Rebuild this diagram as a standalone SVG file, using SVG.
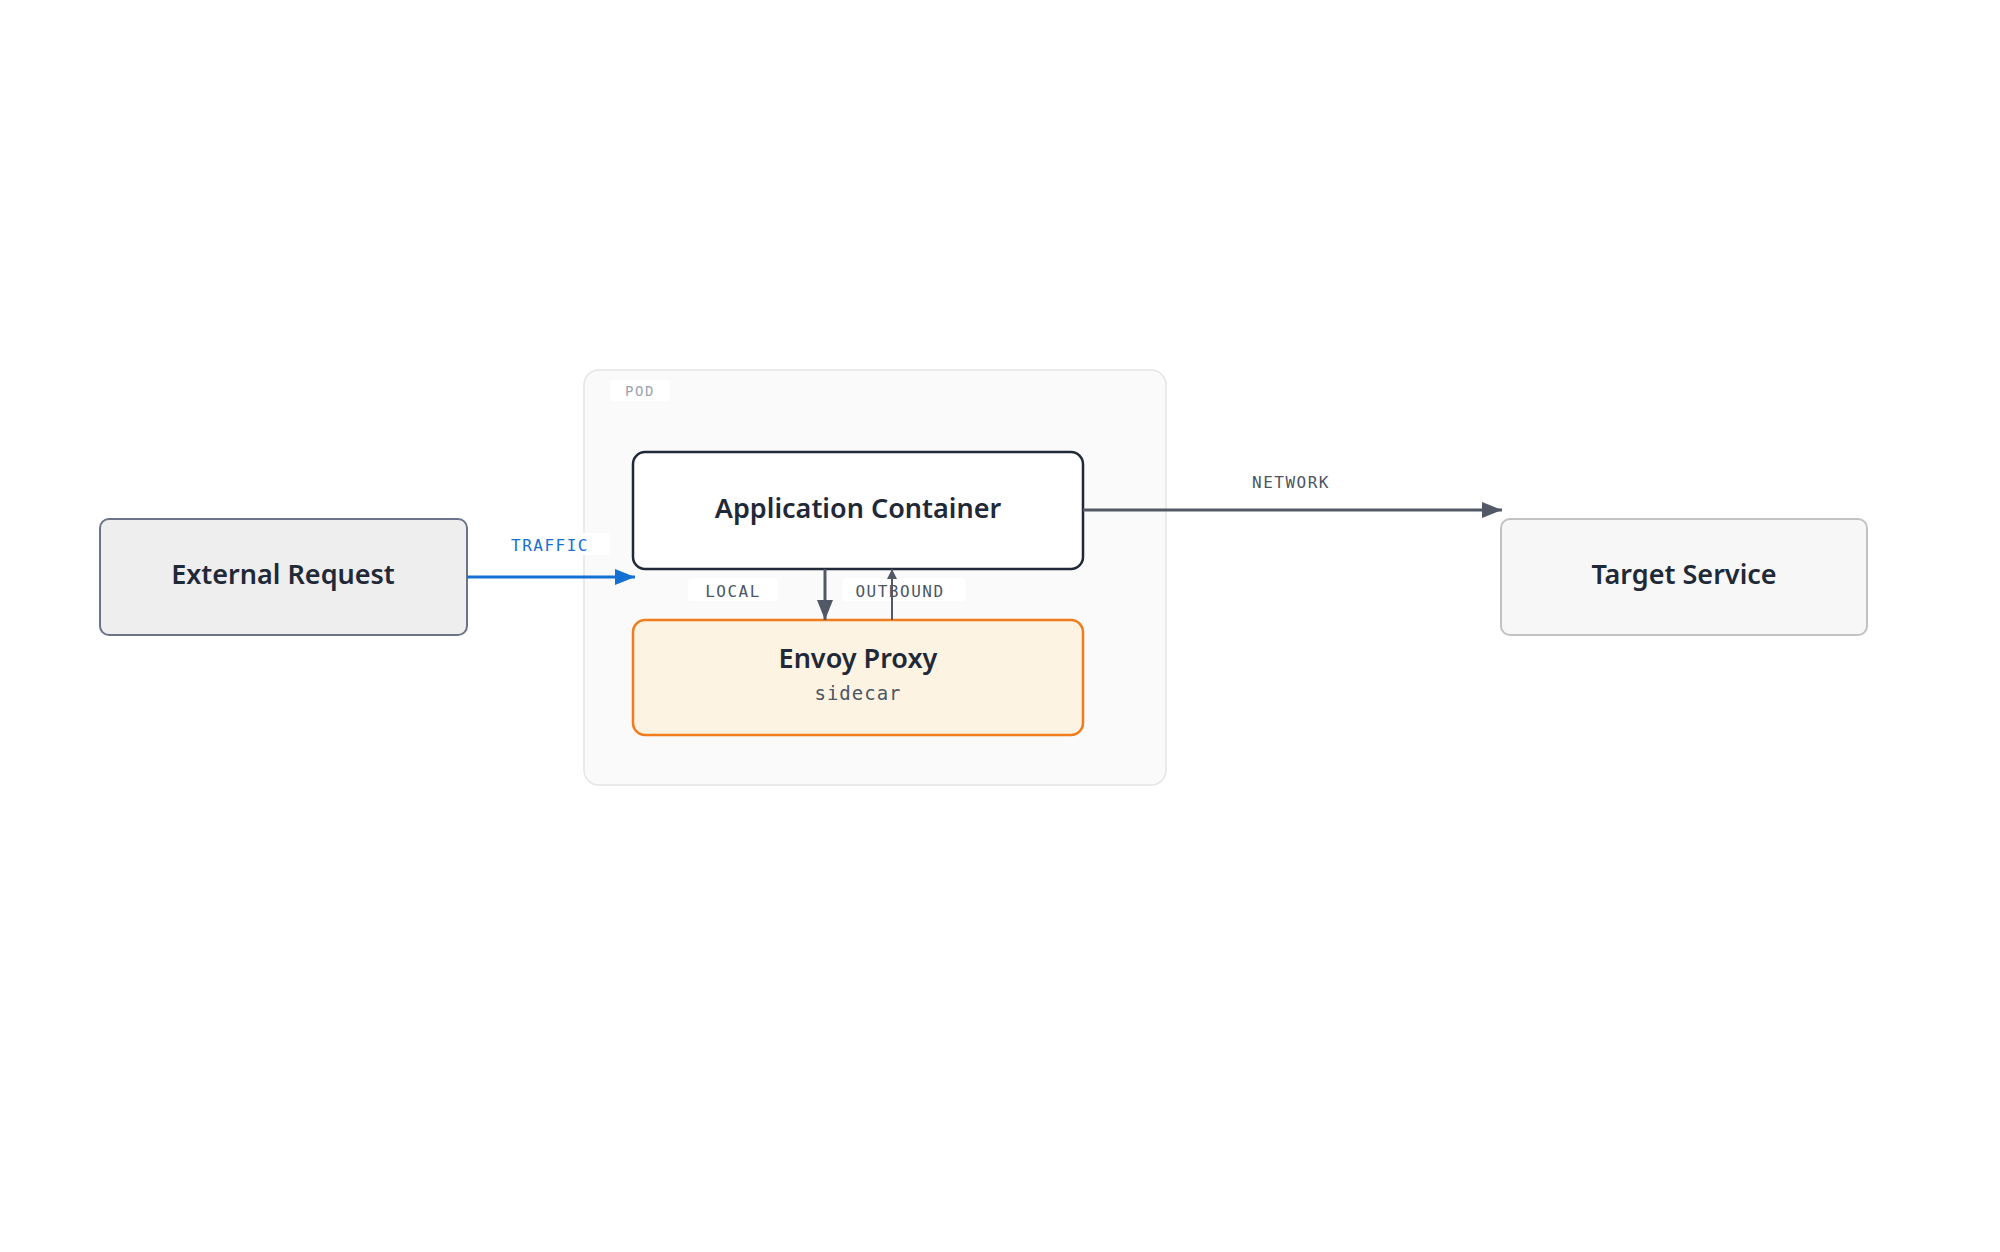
<svg xmlns="http://www.w3.org/2000/svg" width="2000" height="1252" viewBox="0 0 2000 1252">
<style>
.t{font-family:"Noto Sans","Open Sans",sans-serif;font-weight:600;font-size:27px;fill:#1f2937;text-anchor:middle;dominant-baseline:central}
.m{font-family:"DejaVu Sans Mono","Liberation Mono",monospace;font-size:16px;letter-spacing:1.5px;fill:#4b5563;text-anchor:middle;dominant-baseline:central}
.lb{fill:#fff}
</style>
<defs>
<marker id="ag" viewBox="0 0 10 10" refX="10" refY="5" markerWidth="10" markerHeight="10" markerUnits="userSpaceOnUse" orient="auto"><path d="M0,0L10,5L0,10z" fill="#525866"/></marker>
<marker id="agb" viewBox="0 0 10 10" refX="10" refY="5" markerWidth="20" markerHeight="16" markerUnits="userSpaceOnUse" orient="auto" preserveAspectRatio="none"><path d="M0,0L10,5L0,10z" fill="#525866"/></marker>
<marker id="ab" viewBox="0 0 10 10" refX="10" refY="5" markerWidth="20" markerHeight="16" markerUnits="userSpaceOnUse" orient="auto" preserveAspectRatio="none"><path d="M0,0L10,5L0,10z" fill="#1570d4"/></marker>
</defs>
<rect width="2000" height="1252" fill="#fff"/>
<g id="pod">
<rect x="584" y="370" width="582" height="415" rx="15" fill="#fafafa" stroke="#e5e5e5" stroke-width="1.5"/>
<rect x="610" y="380" width="60" height="21" rx="4" class="lb"/>
<text x="640" y="391" class="m" style="font-size:14px;fill:#9ca3af">POD</text>
</g>
<g id="external">
<rect x="100" y="519" width="367" height="116" rx="9" fill="#eeeeee" stroke="#6b7587" stroke-width="2"/>
<text x="283" y="573" class="t">External Request</text>
</g>
<g id="target">
<rect x="1501" y="519" width="366" height="116" rx="9" fill="#f7f7f7" stroke="#c2c2c4" stroke-width="2"/>
<text x="1684" y="573" class="t">Target Service</text>
</g>
<g id="app">
<rect x="633" y="452" width="450" height="117" rx="12" fill="#fff" stroke="#1f2937" stroke-width="2.5"/>
<text x="858" y="507" class="t">Application Container</text>
</g>
<g id="envoy">
<rect x="633" y="620" width="450" height="115" rx="12" fill="#fdf3e3" stroke="#f07c1b" stroke-width="2.5"/>
<text x="858" y="657" class="t">Envoy Proxy</text>
<text x="858" y="693" class="m" style="font-size:19px;letter-spacing:1px">sidecar</text>
</g>
<g id="connectors" fill="none">
<line x1="467" y1="577" x2="635" y2="577" stroke="#1570d4" stroke-width="3" marker-end="url(#ab)"/>
<rect x="504" y="533" width="106" height="22" rx="4" class="lb"/>
<text x="550" y="545" class="m" style="fill:#1570d4">TRAFFIC</text>
<line x1="1083" y1="510" x2="1502" y2="510" stroke="#525866" stroke-width="3" marker-end="url(#agb)"/>
<text x="1291" y="482" class="m">NETWORK</text>
<rect x="688" y="578" width="90" height="23" rx="4" class="lb"/>
<text x="733" y="591" class="m">LOCAL</text>
<rect x="842" y="578" width="124" height="23" rx="4" class="lb"/>
<text x="900" y="591" class="m">OUTBOUND</text>
<line x1="825" y1="569" x2="825" y2="620" stroke="#525866" stroke-width="3" marker-end="url(#agb)"/>
<line x1="892" y1="620" x2="892" y2="569" stroke="#525866" stroke-width="2" marker-end="url(#ag)"/>
</g>
</svg>
